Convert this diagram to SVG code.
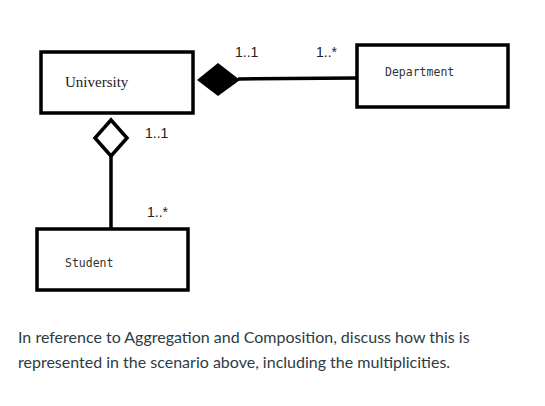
<svg xmlns="http://www.w3.org/2000/svg" width="545" height="406" viewBox="0 0 545 406">
<style>
.box{fill:#fff;stroke:#000;stroke-width:3.5}
.mono{font-family:"DejaVu Sans Mono","Liberation Mono",monospace;font-size:11.5px;fill:#333}
.serif{font-family:"Liberation Serif",serif;font-size:15px;fill:#222}
.mult{font-family:"Liberation Sans",Arial,sans-serif;font-size:14px;fill:#222}
.body{font-family:Lato,"Liberation Sans",sans-serif;font-size:16px;fill:#2d3b45}
.conn{stroke:#000;stroke-width:3.5;fill:none}
</style>
<rect width="545" height="406" fill="#fff"/>
<g id="connectors">
<line class="conn" x1="238" y1="79" x2="357" y2="78"/>
<polygon points="197,80 218,63 240,80 218,96" fill="#000"/>
<line class="conn" x1="111" y1="156" x2="111" y2="228"/>
<polygon points="111,120 127,138 111,156 95,138" fill="#fff" stroke="#000" stroke-width="3.5"/>
</g>
<g id="university">
<rect class="box" x="41" y="52" width="152" height="61"/>
<text class="serif" x="65" y="87">University</text>
</g>
<g id="department">
<rect class="box" x="357" y="45" width="151" height="62"/>
<text class="mono" x="385" y="76">Department</text>
</g>
<g id="student">
<rect class="box" x="37" y="229" width="151" height="61"/>
<text class="mono" x="65" y="267">Student</text>
</g>
<g id="labels">
<text class="mult" x="235" y="57">1..1</text>
<text class="mult" x="316" y="57">1..*</text>
<text class="mult" x="145" y="138">1..1</text>
<text class="mult" x="147" y="217">1..*</text>
</g>
<text class="body" x="18" y="343">In reference to Aggregation and Composition, discuss how this is</text>
<text class="body" x="18" y="368">represented in the scenario above, including the multiplicities.</text>
</svg>
